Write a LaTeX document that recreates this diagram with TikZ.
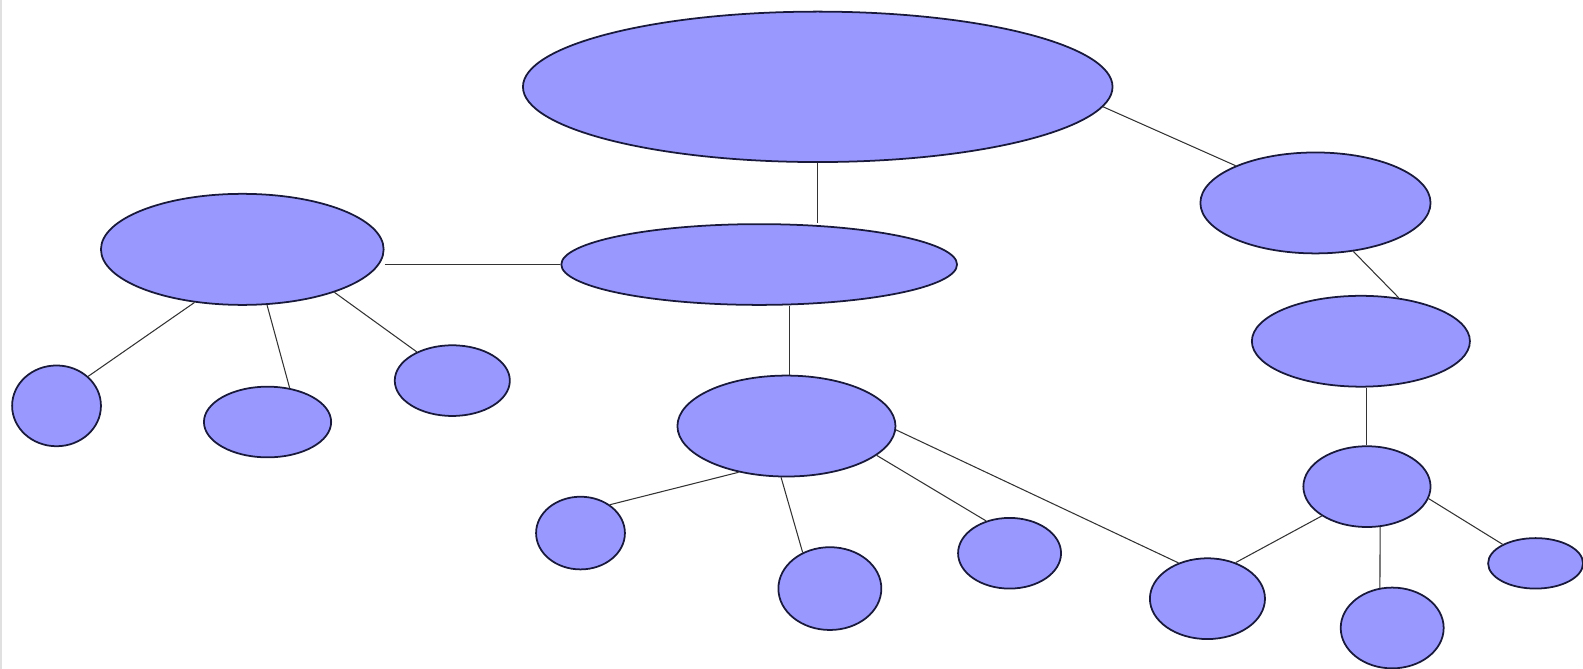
\documentclass[tikz,border=0pt]{standalone}
\usepackage{tikz}
\usetikzlibrary{shapes}
\definecolor{bubblefill}{RGB}{152,152,255}
\definecolor{bubbleline}{RGB}{25,25,60}

\tikzset{
  bubble/.style 2 args={ellipse, draw=bubbleline, line width=1pt, fill=bubblefill, inner sep=0pt,
    minimum width=#1*0.0201913cm, minimum height=#2*0.0201913cm},
  link/.style={black!80, line width=0.6pt}
}

\begin{document}
\begin{tikzpicture}[x=0.0201913cm, y=-0.0201913cm]
  \useasboundingbox (0,0) rectangle (1568,662.65);
  \fill[black!12] (0,0) rectangle (2,662.65);

  % Upper level
  \node[bubble={584}{149}] (root) at (810,86) {};
  \node[bubble={280}{110}] (lhub) at (240,247) {};
  \node[bubble={392}{80}] (chub) at (752,262) {};
  \node[bubble={228}{100}] (rhub) at (1303,201) {};
  \node[bubble={216}{90}] (rmid) at (1348,338) {};
  \node[bubble={216}{100}] (cmid) at (779,422) {};
  \node[bubble={126}{80}] (rlow) at (1354,482) {};

  % Leaves
  \node[bubble={88}{80}] (la) at (56,402) {};
  \node[bubble={126}{70}] (lb) at (265,418) {};
  \node[bubble={114}{70}] (lc) at (448,377) {};
  \node[bubble={88}{72}] (ca) at (575,528) {};
  \node[bubble={102}{82}] (cb) at (822,583) {};
  \node[bubble={102}{70}] (cc) at (1000,548) {};
  \node[bubble={114}{80}] (cd) at (1196,593) {};
  \node[bubble={102}{80}] (ra) at (1379,622) {};
  \node[bubble={94}{50}] (rb) at (1521,558) {};

  % Links
  \draw[link] (root.south) -- (root.south |- chub.north);
  \draw[link] (root.-4) -- (rhub.155);
  \draw[link] (chub.west -| lhub.east) -- (chub.west);
  \draw[link] (lhub.228) -- (la.43);
  \draw[link] (lhub.294) -- (lb.57);
  \draw[link] (lhub.335) -- (lc.141);
  \draw[link] (cmid.87 |- chub.south) -- (cmid.87);
  \draw[link] (rhub.308) -- (rmid.49);
  \draw[link] (rmid.south -| rlow.north) -- (rlow.north);
  \draw[link] (cmid.224) -- (ca.44);
  \draw[link] (cmid.264) -- (cb.127);
  \draw[link] (cmid.342) -- (cc.126);
  \draw[link] (cmid.-2) -- (cd.129);
  \draw[link] (rlow.213) -- (cd.52);
  \draw[link] (rlow.288) -- (ra.107);
  \draw[link] (rlow.349) -- (rb.150);
\end{tikzpicture}
\end{document}
